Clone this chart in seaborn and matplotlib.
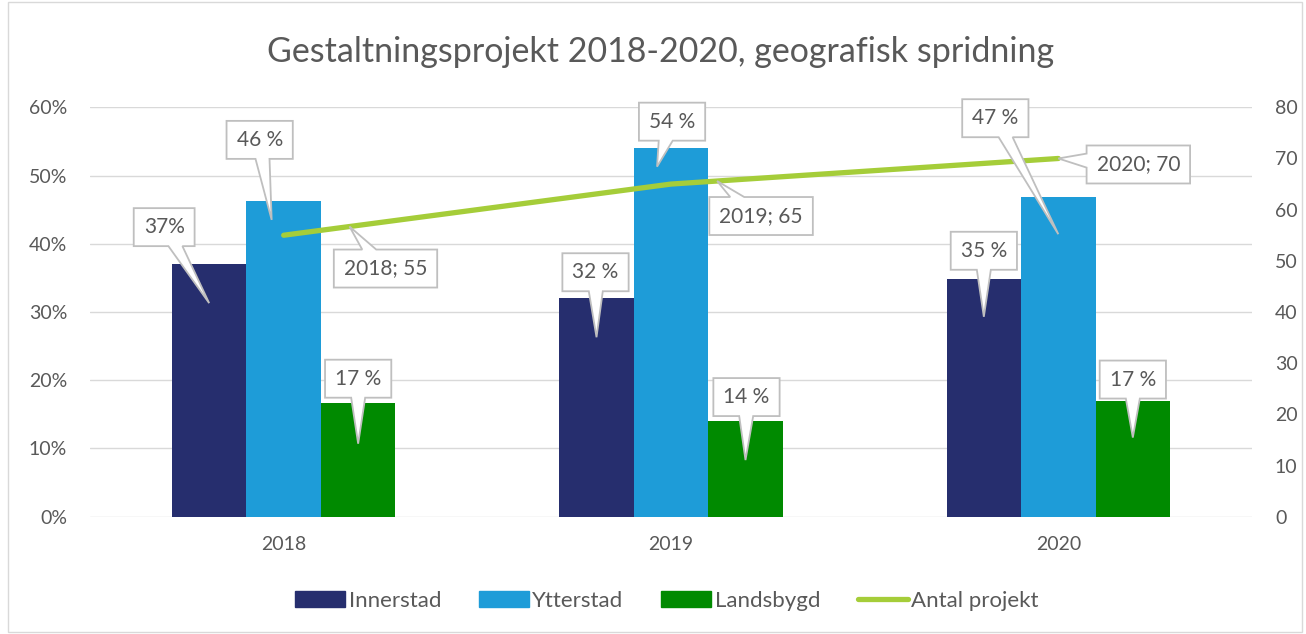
import matplotlib
matplotlib.use("Agg")
import matplotlib.pyplot as plt
import matplotlib.patches as mpatches
from matplotlib.lines import Line2D
import numpy as np
import pandas as pd
import seaborn as sns

# data
years = ["2018", "2019", "2020"]
areas = ["Innerstad", "Ytterstad", "Landsbygd"]
innerstad = [37.0, 32.0, 34.9]
ytterstad = [46.2, 54.0, 46.9]
landsbygd = [16.6, 14.0, 17.0]
antal_projekt = [55, 65, 70]
bar_labels = [["37%", "32 %", "35 %"],
              ["46 %", "54 %", "47 %"],
              ["17 %", "14 %", "17 %"]]
title = "Gestaltningsprojekt 2018-2020, geografisk spridning"

# callout layout: tip (x shift in category units, drop below bar top in %), box offset in px
bar_tip = [[(0, 5.7), (0, 5.7), (0, 5.6)],
           [(-0.031, 2.7), (-0.036, 2.7), (0, 5.5)],
           [(0, 5.9), (0, 5.7), (0, 5.4)]]
bar_box = [[(-45, 76), (-1, 65), (0, 66)],
           [(-12, 80), (15, 45), (-63, 116)],
           [(0, 65), (1, 63), (0, 58)]]
line_tip_frac = [0.17, 0.119, 0.0]
line_box = [(36, -42), (44, -35), (80, -6)]

colors = ["#262E6E", "#1E9CD8", "#008A00"]
line_color = "#A5CD39"
text_color = "#595959"
grid_color = "#D9D9D9"
edge_color = "#BFBFBF"

df = pd.DataFrame({
    "year": years * 3,
    "area": np.repeat(areas, 3),
    "share": innerstad + ytterstad + landsbygd,
})

sns.set_theme(style="white")
plt.rcParams["font.family"] = ["Lato", "DejaVu Sans"]

W, H = 1306, 634
fig = plt.figure(figsize=(W / 100, H / 100), dpi=100)
ax = fig.add_axes([90 / W, 1 - 516.7 / H, (1252 - 90) / W, (516.7 - 107.3) / H])

group_w = 0.577
sns.barplot(data=df, x="year", y="share", hue="area", palette=colors,
            width=group_w, errorbar=None, saturation=1, legend=False,
            linewidth=0, ax=ax)
ax.set_xlim(-0.5, 2.5)
ax.set_ylim(0, 60)
ax.set_yticks(range(0, 61, 10))
ax.set_yticklabels([f"{v}%" for v in range(0, 61, 10)])
ax.set_xlabel("")
ax.set_ylabel("")
ax.grid(axis="y", color=grid_color, lw=1)
ax.set_axisbelow(True)
sns.despine(ax=ax, left=True, bottom=True)
ax.tick_params(axis="y", length=0, labelsize=14, labelcolor=text_color, pad=16.5)
ax.tick_params(axis="x", length=0, labelsize=14, labelcolor=text_color, pad=14)

ax2 = ax.twinx()
xs = np.arange(len(years))
sns.lineplot(x=xs, y=antal_projekt, color=line_color, lw=3.8, ax=ax2,
             solid_capstyle="round")
ax2.set_xlim(-0.5, 2.5)
ax2.set_ylim(0, 80)
ax2.set_yticks(range(0, 81, 10))
ax2.grid(False)
sns.despine(ax=ax2, left=True, bottom=True, right=True)
ax2.tick_params(axis="y", length=0, labelsize=14, labelcolor=text_color, pad=16.5)

fig.text(661 / W, 1 - 52 / H, title, ha="center", va="center",
         fontsize=24.5, color=text_color)

handles = [mpatches.Patch(color=c) for c in colors]
handles.append(Line2D([0], [0], color=line_color, lw=3.8, solid_capstyle="round"))
fig.legend(handles, areas + ["Antal projekt"], loc="center",
           bbox_to_anchor=(667 / W, 1 - 601 / H), ncol=4, frameon=False,
           fontsize=16, labelcolor=text_color, handlelength=2.25,
           handleheight=0.7, handletextpad=0.15, columnspacing=1.7)

fig.add_artist(mpatches.Rectangle((8 / W, 2 / H), (1302 - 8) / W, (632 - 2) / H,
                                  transform=fig.transFigure, fill=False,
                                  ec=grid_color, lw=1))

# callouts: text box with a pointer, built in pixel space
to_fig = fig.transFigure.inverted()
callouts = []


def add_callout(text, tip_disp, offset):
    cx, cy = tip_disp[0] + offset[0], tip_disp[1] + offset[1]
    fx, fy = to_fig.transform((cx, cy))
    t = fig.text(fx, fy, text, ha="center", va="center", fontsize=15,
                 color=text_color, zorder=6)
    callouts.append((t, (cx, cy), tip_disp))


bar_w = group_w / len(areas)
series = [innerstad, ytterstad, landsbygd]
for k, vals in enumerate(series):
    for i, v in enumerate(vals):
        dx, drop = bar_tip[k][i]
        tip = ax.transData.transform((i + (k - 1) * bar_w + dx, v - drop))
        add_callout(bar_labels[k][i], tip, bar_box[k][i])

for i, n in enumerate(antal_projekt):
    xt = i + line_tip_frac[i]
    yt = np.interp(xt, xs, antal_projekt)
    tip = ax2.transData.transform((xt, yt))
    add_callout(f"{years[i]}; {n}", tip, line_box[i])

fig.canvas.draw()
renderer = fig.canvas.get_renderer()
base = 14
for t, (cx, cy), (tx, ty) in callouts:
    ext = t.get_window_extent(renderer)
    hw = ext.width / 2 + 10
    hh = 19
    x0, x1, y0, y1 = cx - hw, cx + hw, cy - hh, cy + hh
    dx, dy = tx - cx, ty - cy
    if abs(dx) * hh > abs(dy) * hw:
        ey = np.clip(cy + dy * hw / abs(dx), y0 + base / 2 + 2, y1 - base / 2 - 2)
        if dx > 0:
            pts = [(x0, y0), (x1, y0), (x1, ey - base / 2), (tx, ty),
                   (x1, ey + base / 2), (x1, y1), (x0, y1)]
        else:
            pts = [(x0, y0), (x1, y0), (x1, y1), (x0, y1),
                   (x0, ey + base / 2), (tx, ty), (x0, ey - base / 2)]
    else:
        ex = np.clip(cx + dx * hh / abs(dy), x0 + base / 2 + 2, x1 - base / 2 - 2)
        if dy < 0:
            pts = [(x0, y0), (ex - base / 2, y0), (tx, ty), (ex + base / 2, y0),
                   (x1, y0), (x1, y1), (x0, y1)]
        else:
            pts = [(x0, y0), (x1, y0), (x1, y1), (ex + base / 2, y1), (tx, ty),
                   (ex - base / 2, y1), (x0, y1)]
    poly = mpatches.Polygon(to_fig.transform(pts), closed=True, fc="white",
                            ec=edge_color, lw=1.3, transform=fig.transFigure,
                            zorder=5)
    fig.add_artist(poly)

fig.savefig("out.png", dpi=100)
